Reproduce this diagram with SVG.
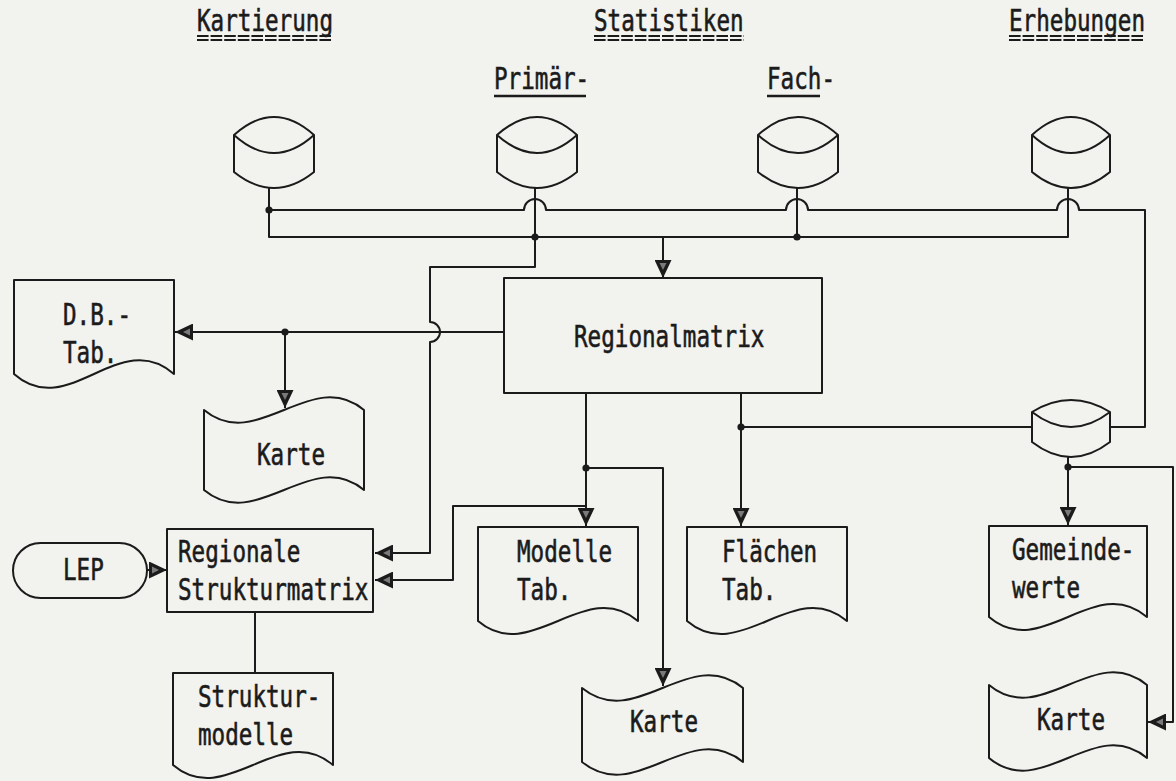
<svg xmlns="http://www.w3.org/2000/svg" width="1176" height="781" viewBox="0 0 1176 781">
<defs>
<style>
.s{fill:none;stroke:#1b1b1b;stroke-width:2;stroke-linejoin:round}
.n{fill:#f2f2ee;stroke:#1b1b1b;stroke-width:2;stroke-linejoin:round}
.t{font-family:"DejaVu Sans Mono","Liberation Mono",monospace;font-size:22.6px;fill:#1b1b1b;stroke:#1b1b1b;stroke-width:0.45}
.u{stroke:#1b1b1b;stroke-width:2;stroke-dasharray:11.6 2}
.d{fill:#1b1b1b}
</style>
<marker id="a" viewBox="0 0 18 17" refX="18" refY="8.5" markerWidth="18" markerHeight="17" markerUnits="userSpaceOnUse" orient="auto">
<path d="M0,0 L18,8.5 L0,17 Z" fill="#1b1b1b"/>
<path d="M3,5 L10,8.5 L3,12 Z" fill="#7a7a7a"/>
</marker>
</defs>
<rect width="1176" height="781" fill="#f2f2ee"/>

<g id="titles">
<text class="t" transform="translate(197,31) scale(1,1.32)">Kartierung</text>
<line class="u" x1="197" y1="36" x2="333" y2="36"/><line class="u" x1="197" y1="40" x2="333" y2="40"/>
<text class="t" transform="translate(594,31) scale(1,1.32)">Statistiken</text>
<line class="u" x1="594" y1="36" x2="744" y2="36"/><line class="u" x1="594" y1="40" x2="744" y2="40"/>
<text class="t" transform="translate(1009,31) scale(1,1.32)">Erhebungen</text>
<line class="u" x1="1009" y1="36" x2="1145" y2="36"/><line class="u" x1="1009" y1="40" x2="1145" y2="40"/>
<text class="t" transform="translate(494,89) scale(1,1.32)">Primär-</text>
<line x1="494" y1="96" x2="586" y2="96" stroke="#1b1b1b" stroke-width="2.5"/>
<text class="t" transform="translate(767,89) scale(1,1.32)">Fach-</text>
<line x1="767" y1="96" x2="820" y2="96" stroke="#1b1b1b" stroke-width="2.5"/>
</g>

<g id="connectors">
<path class="s" d="M269,188 V237 H1068 V188"/>
<path class="s" d="M269,210 H524 A11,11 0 0 1 546,210 H786 A11,11 0 0 1 808,210 H1057 A11,11 0 0 1 1079,210 H1145 V427 H1110"/>
<path class="s" d="M535,188 V267 H430 V322 A10,10 0 0 1 430,342 V553 H375" marker-end="url(#a)"/>
<path class="s" d="M797,188 V237"/>
<path class="s" d="M663,237 V278" marker-end="url(#a)"/>
<path class="s" d="M504,332 H175" marker-end="url(#a)"/>
<path class="s" d="M285,332 V408" marker-end="url(#a)"/>
<path class="s" d="M586,393 V526" marker-end="url(#a)"/>
<path class="s" d="M586,468 H663 V686" marker-end="url(#a)"/>
<path class="s" d="M586,506 H453 V580 H375" marker-end="url(#a)"/>
<path class="s" d="M741,393 V526" marker-end="url(#a)"/>
<path class="s" d="M741,427 H1032"/>
<path class="s" d="M1068,457 V525" marker-end="url(#a)"/>
<path class="s" d="M1068,467 H1173 V722 H1148" marker-end="url(#a)"/>
<path class="s" d="M147,570 H167" marker-end="url(#a)"/>
<path class="s" d="M255,612 V673"/>
<circle class="d" cx="269" cy="210" r="3.6"/>
<circle class="d" cx="535" cy="237" r="3.6"/>
<circle class="d" cx="797" cy="237" r="3.6"/>
<circle class="d" cx="285" cy="332" r="3.6"/>
<circle class="d" cx="586" cy="468" r="3.6"/>
<circle class="d" cx="741" cy="427" r="3.6"/>
<circle class="d" cx="1068" cy="467" r="3.6"/>
</g>

<g id="db-kartierung">
<path class="n" d="M234,135 Q274,99 314,135 V172 Q274,204 234,172 Z M234,135 Q274,171 314,135"/>
</g>
<g id="db-primaer">
<path class="n" d="M497,135 Q537,99 577,135 V172 Q537,204 497,172 Z M497,135 Q537,171 577,135"/>
</g>
<g id="db-fach">
<path class="n" d="M758,135 Q798,99 838,135 V172 Q798,204 758,172 Z M758,135 Q798,171 838,135"/>
</g>
<g id="db-erhebungen">
<path class="n" d="M1032,135 Q1071,99 1110,135 V172 Q1071,204 1032,172 Z M1032,135 Q1071,171 1110,135"/>
</g>
<g id="db-gemeinde">
<path class="n" d="M1032,412 Q1071,388 1110,412 V442 Q1071,472 1032,442 Z M1032,412 Q1071,442 1110,412"/>
</g>

<g id="regionalmatrix">
<rect class="n" x="504" y="278" width="318" height="115"/>
<text class="t" transform="translate(574,347) scale(1,1.32)">Regionalmatrix</text>
</g>
<g id="db-tab">
<path class="n" d="M14,280 H174 V374 C120,326 68,422 14,374 Z"/>
<text class="t" transform="translate(63,325) scale(1,1.32)">D.B.-</text>
<text class="t" transform="translate(63,363) scale(1,1.32)">Tab.</text>
</g>
<g id="karte-1">
<path class="n" d="M204,410 C257,454 311,366 364,410 V490 C311,446 257,534 204,490 Z"/>
<text class="t" transform="translate(257,465) scale(1,1.32)">Karte</text>
</g>
<g id="lep">
<rect class="n" x="13" y="543" width="134" height="55" rx="27.5"/>
<text class="t" transform="translate(63,580) scale(1,1.32)">LEP</text>
</g>
<g id="regionale-strukturmatrix">
<rect class="n" x="167" y="529" width="206" height="83"/>
<text class="t" transform="translate(178,562) scale(1,1.32)">Regionale</text>
<text class="t" transform="translate(178,600) scale(1,1.32)">Strukturmatrix</text>
</g>
<g id="strukturmodelle">
<path class="n" d="M173,673 H333 V765 C280,720 226,810 173,765 Z"/>
<text class="t" transform="translate(198,707) scale(1,1.32)">Struktur-</text>
<text class="t" transform="translate(198,745) scale(1,1.32)">modelle</text>
</g>
<g id="modelle-tab">
<path class="n" d="M478,527 H638 V621 C585,576 531,666 478,621 Z"/>
<text class="t" transform="translate(517,562) scale(1,1.32)">Modelle</text>
<text class="t" transform="translate(517,600) scale(1,1.32)">Tab.</text>
</g>
<g id="flaechen-tab">
<path class="n" d="M687,527 H847 V621 C794,576 740,666 687,621 Z"/>
<text class="t" transform="translate(722,562) scale(1,1.32)">Flächen</text>
<text class="t" transform="translate(722,600) scale(1,1.32)">Tab.</text>
</g>
<g id="karte-2">
<path class="n" d="M582,688 C636,732 689,644 743,688 V762 C689,718 636,806 582,762 Z"/>
<text class="t" transform="translate(630,732) scale(1,1.32)">Karte</text>
</g>
<g id="gemeindewerte">
<path class="n" d="M989,526 H1147 V617 C1094,572 1042,662 989,617 Z"/>
<text class="t" transform="translate(1012,560) scale(1,1.32)">Gemeinde-</text>
<text class="t" transform="translate(1012,598) scale(1,1.32)">werte</text>
</g>
<g id="karte-3">
<path class="n" d="M989,685 C1042,729 1094,641 1147,685 V758 C1094,714 1042,802 989,758 Z"/>
<text class="t" transform="translate(1037,730) scale(1,1.32)">Karte</text>
</g>
</svg>
